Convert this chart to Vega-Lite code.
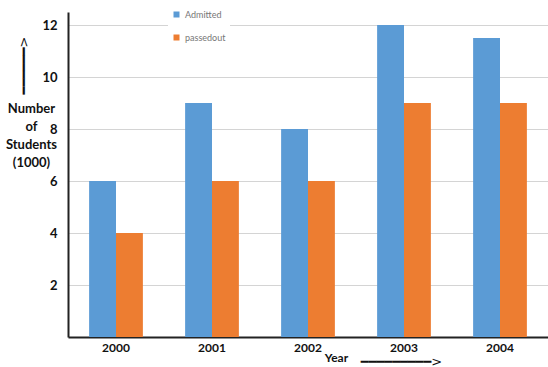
{
  "$schema": "https://vega.github.io/schema/vega-lite/v6.json",
  "width": 480,
  "height": 325,
  "autosize": "none",
  "padding": {"left": 68, "top": 12, "right": 0, "bottom": 30},
  "background": "white",
  "config": {"view": {"stroke": null}, "font": "Lato"},
  "data": {
    "values": [
      {"year": "2000", "series": "Admitted", "value": 6},
      {"year": "2000", "series": "passedout", "value": 4},
      {"year": "2001", "series": "Admitted", "value": 9},
      {"year": "2001", "series": "passedout", "value": 6},
      {"year": "2002", "series": "Admitted", "value": 8},
      {"year": "2002", "series": "passedout", "value": 6},
      {"year": "2003", "series": "Admitted", "value": 12},
      {"year": "2003", "series": "passedout", "value": 9},
      {"year": "2004", "series": "Admitted", "value": 11.5},
      {"year": "2004", "series": "passedout", "value": 9}
    ]
  },
  "layer": [
    {
      "mark": {"type": "bar"},
      "encoding": {
        "x": {
          "field": "year",
          "type": "nominal",
          "scale": {"paddingInner": 0.44, "paddingOuter": 0.22},
          "axis": {
            "title": "Year",
            "titleFont": "Lato",
            "titleFontSize": 12,
            "titleFontWeight": "bold",
            "titleColor": "#111",
            "titleX": 268,
            "titleY": 20,
            "titleAlign": "center",
            "titleBaseline": "middle",
            "labelAngle": 0,
            "labelFont": "Lato",
            "labelFontSize": 12,
            "labelFontWeight": "bold",
            "labelColor": "#111",
            "labelPadding": 5,
            "labelDx": -6,
            "ticks": false,
            "domainColor": "#222",
            "domainWidth": 2
          }
        },
        "xOffset": {"field": "series", "type": "nominal", "sort": ["Admitted", "passedout"]},
        "y": {
          "field": "value",
          "type": "quantitative",
          "scale": {"domain": [0, 12.5], "nice": false},
          "axis": {
            "values": [2, 4, 6, 8, 10, 12],
            "title": ["Number", "of", "Students", "(1000)"],
            "titleAngle": 0,
            "titleX": -37,
            "titleY": 90,
            "titleAlign": "center",
            "titleBaseline": "top",
            "titleLineHeight": 18,
            "titleFont": "Lato",
            "titleFontSize": 13,
            "titleFontWeight": "bold",
            "titleColor": "#111",
            "labelFont": "Lato",
            "labelFontSize": 13,
            "labelFontWeight": "bold",
            "labelColor": "#111",
            "labelPadding": 11,
            "ticks": false,
            "domainColor": "#222",
            "domainWidth": 2,
            "gridColor": "#d4d4d4",
            "gridWidth": 1
          }
        },
        "color": {
          "field": "series",
          "type": "nominal",
          "scale": {"domain": ["Admitted", "passedout"], "range": ["#5b9bd5", "#ed7d31"]},
          "legend": {
            "title": null,
            "orient": "none",
            "legendX": 100,
            "legendY": -6,
            "symbolType": "square",
            "symbolSize": 36,
            "symbolStrokeWidth": 0,
            "labelFont": "Lato",
            "labelFontSize": 9,
            "labelColor": "#777",
            "rowPadding": 13,
            "fillColor": "white",
            "padding": 4
          }
        }
      }
    },
    {
      "mark": {"type": "bar", "opacity": 0},
      "encoding": {
        "x": {
          "field": "year",
          "type": "nominal",
          "axis": {
            "orient": "top",
            "title": "━━━━━━━━━>",
            "titleFont": "DejaVu Sans",
            "titleFontSize": 13,
            "titleFontWeight": "normal",
            "titleColor": "#111",
            "titleX": 333,
            "titleY": 349,
            "titleAlign": "center",
            "titleBaseline": "middle",
            "labels": false,
            "ticks": false,
            "domain": false,
            "grid": false
          }
        },
        "y": {
          "field": "value",
          "type": "quantitative",
          "axis": {
            "orient": "left",
            "title": "━━━━━━>",
            "titleFont": "DejaVu Sans",
            "titleFontSize": 13,
            "titleFontWeight": "normal",
            "titleColor": "#111",
            "titleAngle": -90,
            "titleX": -45,
            "titleY": 53,
            "titleAlign": "center",
            "titleBaseline": "middle",
            "labels": false,
            "ticks": false,
            "domain": false,
            "grid": false
          }
        }
      }
    }
  ],
  "resolve": {
    "scale": {"x": "independent", "y": "independent"},
    "axis": {"x": "independent", "y": "independent"}
  }
}
